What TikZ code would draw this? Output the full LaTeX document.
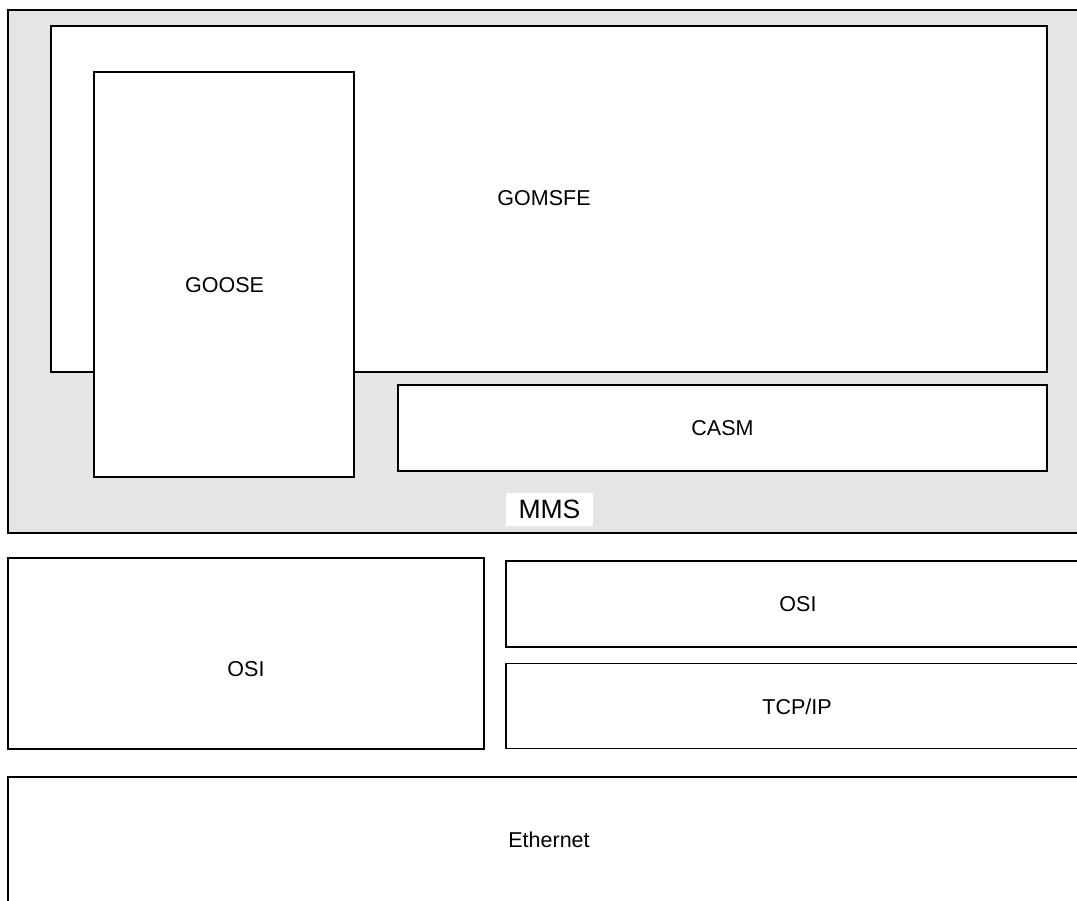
\documentclass[tikz,border=0pt]{standalone}
\usepackage{fontspec}
\setmainfont{Liberation Sans}
\definecolor{panelgray}{RGB}{229,229,229}
\begin{document}
\begin{tikzpicture}[x=1pt,y=-1pt,
  box/.style={draw=black, line width=1.4pt, fill=white, rectangle,
    inner sep=0pt, outer sep=0pt},
  lbl/.style={font=\fontsize{21.5}{25}\selectfont, inner sep=0pt},
  biglbl/.style={font=\fontsize{26.5}{31}\selectfont, fill=white, inner sep=0pt,
    minimum width=87pt, minimum height=33pt},
]
\useasboundingbox (0,0) rectangle (1077,901);
\clip (0,0) rectangle (1077,901);

% MMS layer with its contents
\node[box, fill=panelgray, minimum width=1092pt, minimum height=523pt] (mms) at (554,271.5) {};
\node[box, minimum width=996pt, minimum height=346pt] (gomsfe) at (549,199) {};
\node[lbl] (gomsfetxt) at (544,198) {GOMSFE};
\node[box, minimum width=260pt, minimum height=405pt] (goose) at (224,274.5) {};
\node[lbl] (goosetxt) at (224.5,285) {GOOSE};
\node[box, minimum width=649pt, minimum height=86pt] (casm) at (722.5,428) {};
\node[lbl] (casmtxt) at (722.5,428) {CASM};
\node[biglbl] (mmstxt) at (549.5,509.5) {MMS};

% transport layers
\node[box, minimum width=476pt, minimum height=191pt] (osil) at (246,653.5) {};
\node[lbl] (osiltxt) at (246,669.5) {OSI};
\node[box, minimum width=584pt, minimum height=86pt] (osir) at (798,604) {};
\node[lbl] (osirtxt) at (798,604) {OSI};
\node[box, minimum width=584pt, minimum height=85pt] (tcp) at (798,706) {};
\node[lbl] (tcptxt) at (797,707) {TCP/IP};

% link layer
\node[box, minimum width=1082pt, minimum height=200pt] (eth) at (549,877) {};
\node[lbl] (ethtxt) at (549,840) {Ethernet};
\end{tikzpicture}
\end{document}
